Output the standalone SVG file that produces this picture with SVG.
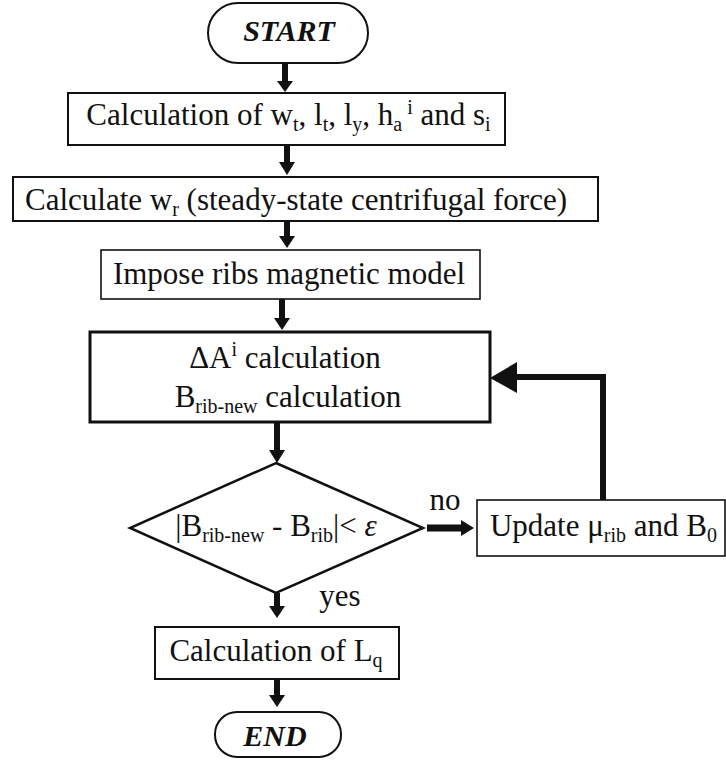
<svg xmlns="http://www.w3.org/2000/svg" width="726" height="762" viewBox="0 0 726 762">
<style>
text{font-family:'Liberation Serif','Times New Roman','DejaVu Serif',serif}
.t{font-size:31px;fill:#111;text-anchor:middle}
.s{font-size:20px}
.b{fill:#fff;stroke:#111;stroke-width:2}
.tb{font-size:30px;font-weight:bold;font-style:italic;fill:#111;text-anchor:middle}
.ln{stroke:#111;fill:none}
.ah{fill:#111;stroke:none}
</style>
<rect width="726" height="762" fill="#fff"/>
<g id="start">
<rect class="b" x="208" y="3" width="160" height="60" rx="30" ry="30"/>
<text class="tb" x="289" y="41">START</text>
</g>
<g id="box1">
<rect class="b" x="68" y="93" width="437" height="52"/>
<text class="t" x="288.5" y="125">Calculation of w<tspan class="s" dy="6">t</tspan><tspan dy="-6">, l</tspan><tspan class="s" dy="6">t</tspan><tspan dy="-6">, l</tspan><tspan class="s" dy="6">y</tspan><tspan dy="-6">, h</tspan><tspan class="s" dy="6">a</tspan><tspan class="s" dy="-17"> i</tspan><tspan dy="11"> and s</tspan><tspan class="s" dy="6">i</tspan></text>
</g>
<g id="box2">
<rect class="b" x="13" y="177" width="585" height="44"/>
<text class="t" x="296" y="210">Calculate w<tspan class="s" dy="6">r</tspan><tspan dy="-6"> (steady-state centrifugal force)</tspan></text>
</g>
<g id="box3">
<rect class="b" x="101" y="250" width="379" height="49" style="stroke-width:1.6"/>
<text class="t" x="289" y="284">Impose ribs magnetic model</text>
</g>
<g id="box4">
<rect class="b" x="90" y="332" width="400" height="90" style="stroke-width:3"/>
<text class="t" x="285" y="368">ΔA<tspan class="s" dy="-12">i</tspan><tspan dy="12"> calculation</tspan></text>
<text class="t" x="288" y="407">B<tspan class="s" dy="6">rib-new</tspan><tspan dy="-6"> calculation</tspan></text>
</g>
<g id="decision">
<polygon class="b" points="276,463 423,528 276,593 130,528" style="stroke-width:2.5"/>
<text class="t" x="276" y="536">|B<tspan class="s" dy="6">rib-new</tspan><tspan dy="-6"> - B</tspan><tspan class="s" dy="6">rib</tspan><tspan dy="-6">|&lt; </tspan><tspan font-style="italic">ε</tspan></text>
</g>
<g id="update">
<rect class="b" x="477" y="500" width="248" height="56" style="stroke-width:1.6"/>
<text class="t" x="603.5" y="536">Update μ<tspan class="s" dy="6">rib</tspan><tspan dy="-6"> and B</tspan><tspan class="s" dy="6">0</tspan></text>
</g>
<g id="box5">
<rect class="b" x="155" y="627" width="244" height="52"/>
<text class="t" x="276" y="661">Calculation of L<tspan class="s" dy="6">q</tspan></text>
</g>
<g id="end">
<rect class="b" x="215" y="712" width="126" height="45" rx="22" ry="22"/>
<text class="tb" x="275" y="746">END</text>
</g>
<g id="connectors">
<line class="ln" x1="285" y1="63" x2="285" y2="82" stroke-width="6"/>
<polygon class="ah" points="277,81 293,81 285,92"/>
<line class="ln" x1="287" y1="145" x2="287" y2="163" stroke-width="6"/>
<polygon class="ah" points="279,162 295,162 287,175"/>
<line class="ln" x1="287" y1="221" x2="287" y2="237" stroke-width="6"/>
<polygon class="ah" points="279,236 295,236 287,248"/>
<line class="ln" x1="282" y1="299" x2="282" y2="319" stroke-width="6"/>
<polygon class="ah" points="274,318 290,318 282,330"/>
<line class="ln" x1="277" y1="422" x2="277" y2="451" stroke-width="6"/>
<polygon class="ah" points="269,450 285,450 277,463"/>
<line class="ln" x1="277" y1="593" x2="277" y2="607" stroke-width="6"/>
<polygon class="ah" points="269,606 285,606 277,618"/>
<line class="ln" x1="277" y1="679" x2="277" y2="696" stroke-width="6"/>
<polygon class="ah" points="269,695 285,695 277,707"/>
<line class="ln" x1="427" y1="528" x2="462" y2="528" stroke-width="7"/>
<polygon class="ah" points="461,520 461,536 474,528"/>
<polyline class="ln" points="603,500 603,377 516,377" stroke-width="6"/>
<polygon class="ah" points="517,362 517,393 490,378"/>
<text class="t" x="445" y="510">no</text>
<text class="t" x="340" y="606">yes</text>
</g>
</svg>
